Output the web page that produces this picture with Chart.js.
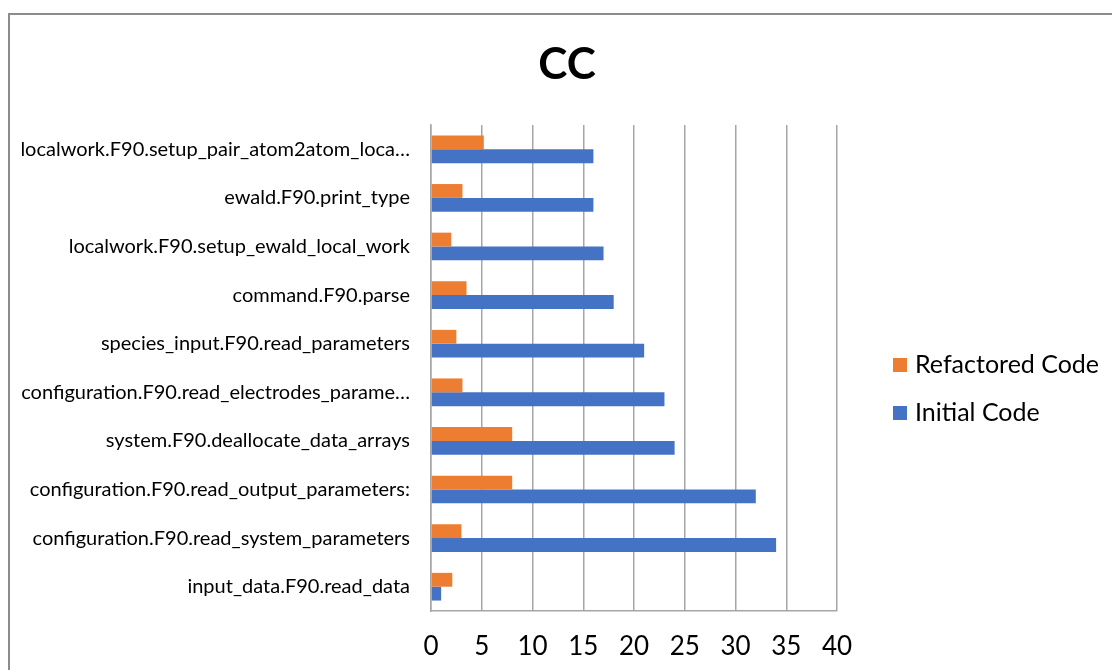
<!DOCTYPE html>
<html>
<head>
<meta charset="utf-8">
<script src="https://cdn.jsdelivr.net/npm/chart.js@4"></script>
<style>
  html, body { margin: 0; padding: 0; background: #fff; }
  #wrap { width: 1112px; height: 670px; position: relative; }
</style>
</head>
<body>
<div id="wrap"><canvas id="cc" width="1112" height="670"></canvas></div>
<script>
// Functions, listed top to bottom as they appear on the chart
const categories = [
  'localwork.F90.setup_pair_atom2atom_loca…',
  'ewald.F90.print_type',
  'localwork.F90.setup_ewald_local_work',
  'command.F90.parse',
  'species_input.F90.read_parameters',
  'configuration.F90.read_electrodes_parame…',
  'system.F90.deallocate_data_arrays',
  'configuration.F90.read_output_parameters:',
  'configuration.F90.read_system_parameters',
  'input_data.F90.read_data'
];

// Cyclomatic complexity per function
const refactoredCode = [5.2, 3.1, 2, 3.5, 2.5, 3.1, 8, 8, 3, 2.1];
const initialCode    = [16, 16, 17, 18, 21, 23, 24, 32, 34, 1];

const seriesNames = ['Refactored Code', 'Initial Code'];
const xTicks = [0, 5, 10, 15, 20, 25, 30, 35, 40];
const chartTitle = 'CC';

const ORANGE = '#ED7D31';
const BLUE = '#4472C4';
const GRID = '#a6a6a6';
const FONT = 'Lato, "Open Sans", "Liberation Sans", sans-serif';

// Outer frame and title of the chart object
const framePlugin = {
  id: 'frame',
  beforeDraw(chart) {
    const ctx = chart.ctx;
    ctx.save();
    ctx.fillStyle = '#fff';
    ctx.fillRect(0, 0, chart.width, chart.height);
    ctx.strokeStyle = '#8c8c8c';
    ctx.lineWidth = 2;
    ctx.strokeRect(9, 14, chart.width + 20, chart.height + 20);
    ctx.fillStyle = '#000';
    ctx.font = 'bold 44px ' + FONT;
    ctx.textAlign = 'center';
    ctx.textBaseline = 'middle';
    ctx.fillText(chartTitle, 567, 65);
    ctx.restore();
  }
};

// Legend on the right, one row per series
const sideLegend = {
  id: 'sideLegend',
  afterDraw(chart) {
    const ctx = chart.ctx;
    ctx.save();
    ctx.font = '25px ' + FONT;
    ctx.textBaseline = 'middle';
    ctx.textAlign = 'left';
    chart.data.datasets.forEach((ds, i) => {
      const y = 358 + i * 48;
      ctx.fillStyle = ds.backgroundColor;
      ctx.fillRect(893, y, 14, 14);
      ctx.fillStyle = '#000';
      ctx.fillText(ds.label, 915, y + 7);
    });
    ctx.restore();
  }
};

new Chart(document.getElementById('cc'), {
  type: 'bar',
  data: {
    labels: categories,
    datasets: [
      { label: seriesNames[0], data: refactoredCode, backgroundColor: ORANGE },
      { label: seriesNames[1], data: initialCode, backgroundColor: BLUE }
    ]
  },
  options: {
    indexAxis: 'y',
    responsive: false,
    animation: false,
    layout: { padding: { left: 22, right: 275, top: 125, bottom: 0 } },
    datasets: {
      bar: { barPercentage: 1.0, categoryPercentage: 0.57, borderWidth: 0 }
    },
    plugins: {
      legend: { display: false },
      tooltip: { enabled: false },
      title: { display: false }
    },
    scales: {
      x: {
        min: 0,
        max: 40,
        afterBuildTicks(scale) { scale.ticks = xTicks.map(v => ({ value: v })); },
        afterFit(scale) { scale.height = 59; },
        grid: { color: GRID, lineWidth: 1.5, drawTicks: false },
        border: { color: GRID, width: 1.5 },
        ticks: {
          color: '#000',
          padding: 20,
          font: { family: FONT, size: 26 }
        }
      },
      y: {
        afterFit(scale) { scale.width = 409; },
        grid: { display: false, drawTicks: false },
        border: { color: GRID, width: 1.5 },
        ticks: {
          color: '#000',
          padding: 21,
          autoSkip: false,
          font: { family: FONT, size: 20 }
        }
      }
    }
  },
  plugins: [framePlugin, sideLegend]
});
</script>
</body>
</html>
